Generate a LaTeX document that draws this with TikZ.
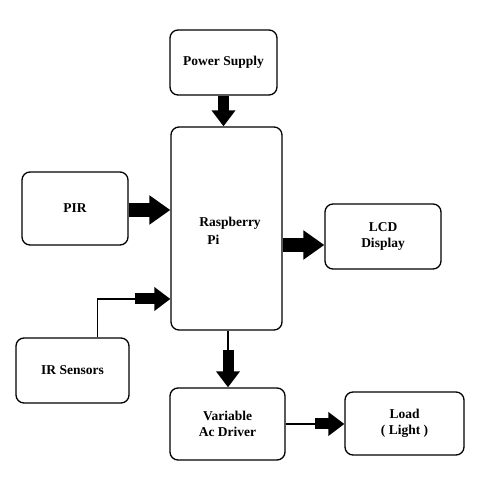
\documentclass[tikz,border=0pt]{standalone}
\usepackage{fontspec}
\setmainfont{Liberation Serif}
\usepackage{tikz}
\usetikzlibrary{arrows.meta}

\tikzset{
	block/.style={draw, line width=1.3pt, rounded corners=8pt, align=center,
		font=\fontsize{13.5}{16}\selectfont\bfseries},
	blockarrow/.style={line width=11pt, -{Triangle[width=23pt,length=16pt]}},
	bigarrow/.style={line width=14pt, -{Triangle[width=28pt,length=21pt]}},
	wire/.style={line width=1.3pt}
}

\begin{document}
\begin{tikzpicture}[x=1pt, y=1pt]
			\useasboundingbox (0,0) rectangle (500,500);
			\node[block, minimum width=107pt, minimum height=65pt] (supply) at (223.5,437.5) {Power Supply};
			\node[block, minimum width=111pt, minimum height=203pt] (rpi) at (226.5,271.5) {};
			\node[align=left, font=\fontsize{13.5}{18}\selectfont\bfseries] (rpitext) at (230,269) {Raspberry\\\hspace{0.6em}Pi};
			\node[block, minimum width=106pt, minimum height=73pt] (pir) at (75,291.5) {PIR};
			\node[block, minimum width=116pt, minimum height=65pt] (lcd) at (383,263.5) {LCD\\Display};
			\node[block, minimum width=113pt, minimum height=65pt] (ir) at (72.5,129.5) {IR Sensors};
			\node[block, minimum width=115pt, minimum height=72pt] (driver) at (227.5,76) {Variable\\Ac Driver};
			\node[block, minimum width=119pt, minimum height=63pt] (load) at (404.5,76.5) {Load\\( Light )};
			% bends of the thin lines
			\coordinate (irbend) at (135,201);
			\coordinate (rpibend) at (228,150);
			\coordinate (drvbend) at (315,76);
			% arrows
			\draw[blockarrow] (supply.south) -- (supply.south |- rpi.north);
			\draw[bigarrow] (pir.east |- 0,290) -- (rpi.west |- 0,290);
			\draw[wire] ([xshift=25pt]ir.north) |- (irbend);
			\draw[blockarrow] (irbend) -- (irbend -| rpi.west);
			\draw[bigarrow] (rpi.east |- 0,255) -- (lcd.west |- 0,255);
			\draw[wire] (rpi.south -| rpibend) -- (rpibend);
			\draw[blockarrow] (rpibend) -- (rpibend |- driver.north);
			\draw[wire] (driver.east |- drvbend) -- (drvbend);
			\draw[blockarrow] (drvbend) -- (drvbend -| load.west);
		\end{tikzpicture}
\end{document}
